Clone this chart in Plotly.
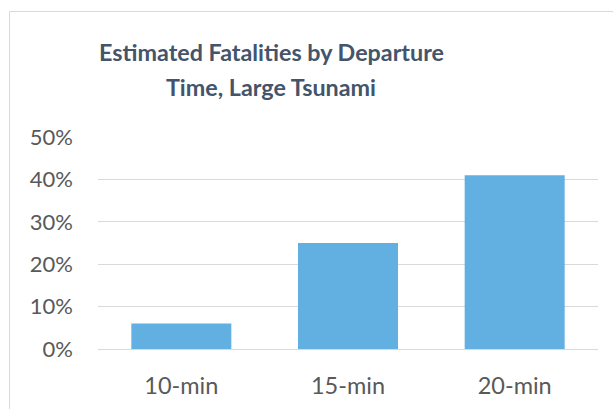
import plotly.graph_objects as go

categories = ["10-min", "15-min", "20-min"]
fatalities = [0.06, 0.25, 0.41]
title_lines = ["Estimated Fatalities by Departure", "Time, Large Tsunami"]

W, H = 613, 409
L, R, T, B = 98, 15, 137, 60
pw, ph = W - L - R, H - T - B

def px_x(x):
    return (x - L) / pw

def px_y(y):
    return (H - B - y) / ph

fig = go.Figure(go.Bar(x=categories, y=fatalities, marker=dict(color="#62B0E1", line=dict(width=0)), width=0.6))

title_y = [52, 87]
annotations = [dict(text="<b>" + line + "</b>", x=px_x(271), y=px_y(yy), xref="paper", yref="paper",
                    xanchor="center", yanchor="middle", showarrow=False,
                    font=dict(family="Lato, sans-serif", size=23.3, color="#44546A"))
               for line, yy in zip(title_lines, title_y)]

fig.update_layout(
    width=W, height=H,
    margin=dict(l=L, r=R, t=T, b=B),
    paper_bgcolor="white", plot_bgcolor="white",
    showlegend=False,
    font=dict(family="Lato, Carlito, sans-serif", color="#595959", size=22),
    xaxis=dict(showgrid=False, showline=False, ticks="", tickfont=dict(size=23.5, color="#595959"),
               range=[-0.5, 2.5], ticklabelstandoff=20, automargin=False),
    yaxis=dict(range=[0, 0.5], dtick=0.1, tickformat=".0%", showgrid=True, gridcolor="#D9D9D9", gridwidth=1.3,
               zeroline=True, zerolinecolor="#D9D9D9", zerolinewidth=1.3, showline=False, ticks="",
               ticklabelstandoff=24, tickfont=dict(size=22, color="#595959"), automargin=False),
    annotations=annotations,
    shapes=[dict(type="rect", xref="paper", yref="paper", x0=px_x(9.5), x1=px_x(640), y0=px_y(11.5), y1=px_y(440),
                 line=dict(color="#D9D9D9", width=1), layer="below")],
)

fig.write_html("out.html")
